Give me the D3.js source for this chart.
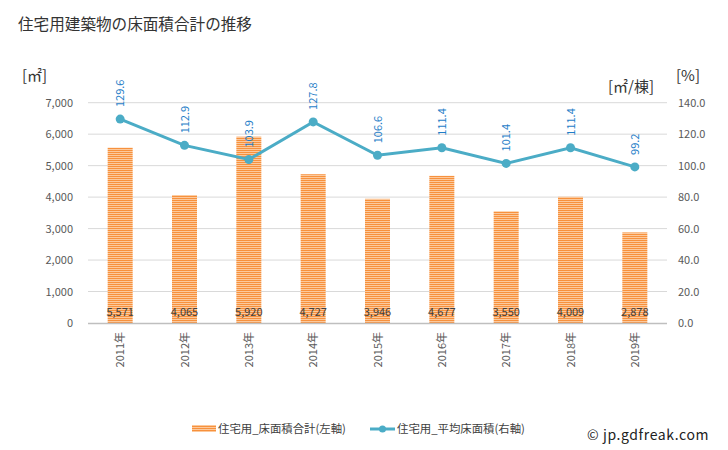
<!DOCTYPE html>
<html><head><meta charset="utf-8">
<script src="https://cdn.jsdelivr.net/npm/d3@7"></script>
<style>body{margin:0;background:#fff;font-family:"Noto Sans CJK JP","Noto Sans",sans-serif;}</style>
</head><body>
<svg id="c" width="728" height="450"></svg>
<script>
const years = ["2011年","2012年","2013年","2014年","2015年","2016年","2017年","2018年","2019年"];
const floorArea = [5571,4065,5920,4727,3946,4677,3550,4009,2878];
const avgArea = [129.6,112.9,103.9,127.8,106.6,111.4,101.4,111.4,99.2];
const leftTicks = [0,1000,2000,3000,4000,5000,6000,7000];
const rightTicks = [0,20,40,60,80,100,120,140];

const svg = d3.select("#c");
const font = "'Noto Sans CJK JP', sans-serif";
const L = 88, R = 667, T = 102.7, B = 323;
const x = d3.scaleBand().domain(years).range([L, R]);
const yL = d3.scaleLinear().domain([0,7000]).range([B, T]);
const yR = d3.scaleLinear().domain([0,140]).range([B, T]);

const defs = svg.append("defs");
const pat = defs.append("pattern").attr("id","stripe").attr("patternUnits","userSpaceOnUse")
  .attr("width",4).attr("height",2);
pat.append("rect").attr("width",4).attr("height",1).attr("fill","#f7913d");
pat.append("rect").attr("y",1).attr("width",4).attr("height",1).attr("fill","#fcc99c");

svg.append("text").attr("x",18).attr("y",30).text("住宅用建築物の床面積合計の推移")
  .attr("font-family",font).attr("font-size",15.6).attr("fill","#333");

// gridlines
svg.append("g").selectAll("line").data(leftTicks.slice(1)).join("line")
  .attr("x1",L).attr("x2",R).attr("y1",d=>yL(d)).attr("y2",d=>yL(d))
  .attr("stroke","#d9d9d9").attr("stroke-width",1);

// left axis
const gl = svg.append("g").attr("transform",`translate(${L},0)`)
  .call(d3.axisLeft(yL).tickValues(leftTicks).tickFormat(d3.format(",")).tickSize(0).tickPadding(15));
gl.select(".domain").remove();
gl.selectAll("text").attr("font-family",font).attr("font-size",11).attr("fill","#595959");

// right axis
const gr = svg.append("g").attr("transform",`translate(${R},0)`)
  .call(d3.axisRight(yR).tickValues(rightTicks).tickFormat(d3.format(".1f")).tickSize(0).tickPadding(11));
gr.select(".domain").remove();
gr.selectAll("text").attr("font-family",font).attr("font-size",11).attr("fill","#595959");

// units
svg.append("text").attr("x",22).attr("y",81).text("[㎡]").attr("font-family",font).attr("font-size",15).attr("fill","#333");
svg.append("text").attr("x",608).attr("y",92).text("[㎡/棟]").attr("font-family",font).attr("font-size",15).attr("fill","#333");
svg.append("text").attr("x",676).attr("y",81).text("[%]").attr("font-family",font).attr("font-size",15).attr("fill","#333");

// bars
const bw = 25;
svg.append("g").selectAll("rect").data(floorArea).join("rect")
  .attr("x",(d,i)=>x(years[i])+x.bandwidth()/2-bw/2).attr("width",bw)
  .attr("y",d=>yL(d)).attr("height",d=>B-yL(d)).attr("fill","url(#stripe)");

// baseline
svg.append("line").attr("x1",L).attr("x2",R).attr("y1",B+0.5).attr("y2",B+0.5).attr("stroke","#bfbfbf").attr("stroke-width",1.5);

// bar labels
svg.append("g").selectAll("text").data(floorArea).join("text")
  .attr("x",(d,i)=>x(years[i])+x.bandwidth()/2).attr("y",316)
  .attr("text-anchor","middle").text(d=>d3.format(",")(d))
  .attr("font-family",font).attr("font-size",11).attr("fill","#404040");

// x labels
svg.append("g").selectAll("text").data(years).join("text")
  .attr("transform",(d)=>`translate(${x(d)+x.bandwidth()/2+4},332) rotate(-90)`)
  .attr("text-anchor","end").text(d=>d)
  .attr("font-family",font).attr("font-size",11).attr("fill","#595959");

// line
const cx = (i)=>x(years[i])+x.bandwidth()/2;
svg.append("path").datum(avgArea)
  .attr("d",d3.line().x((d,i)=>cx(i)).y(d=>yR(d)))
  .attr("fill","none").attr("stroke","#4bacc6").attr("stroke-width",3);
svg.append("g").selectAll("circle").data(avgArea).join("circle")
  .attr("cx",(d,i)=>cx(i)).attr("cy",d=>yR(d)).attr("r",4.5).attr("fill","#4bacc6");
svg.append("g").selectAll("text").data(avgArea).join("text")
  .attr("transform",(d,i)=>`translate(${cx(i)+4},${yR(d)-12}) rotate(-90)`)
  .attr("text-anchor","start").text(d=>d3.format(".1f")(d))
  .attr("font-family",font).attr("font-size",11).attr("fill","#1f7ec8");

// legend
svg.append("rect").attr("x",192).attr("y",425).attr("width",24).attr("height",7).attr("fill","url(#stripe)");
svg.append("text").attr("x",218).attr("y",433).text("住宅用_床面積合計(左軸)").attr("font-family",font).attr("font-size",11.4).attr("fill","#404040");
svg.append("line").attr("x1",370).attr("x2",395).attr("y1",429).attr("y2",429).attr("stroke","#4bacc6").attr("stroke-width",3);
svg.append("circle").attr("cx",382.5).attr("cy",429).attr("r",3.5).attr("fill","#4bacc6");
svg.append("text").attr("x",397).attr("y",433).text("住宅用_平均床面積(右軸)").attr("font-family",font).attr("font-size",11.4).attr("fill","#404040");
svg.append("text").attr("x",587).attr("y",440).text("© jp.gdfreak.com").attr("font-family",font).attr("font-size",14).attr("letter-spacing",0.6).attr("fill","#222");
</script>
</body></html>
